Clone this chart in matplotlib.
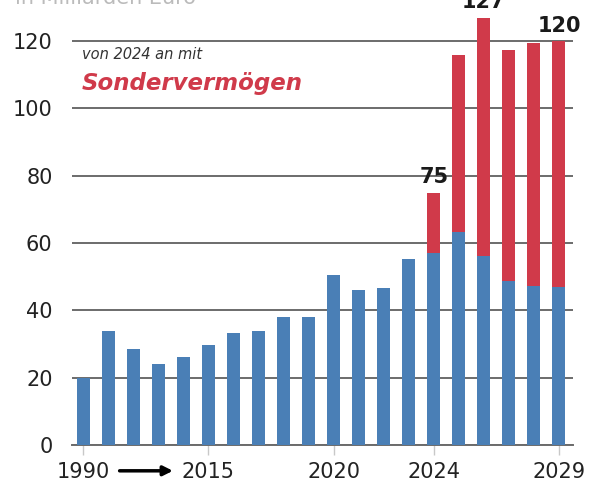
import numpy as np
import matplotlib
matplotlib.use("Agg")
import matplotlib.pyplot as plt

# Werte in Mrd. Euro
jahre = ['1990', '1995', '2000', '2005', '2010', '2015', '2016', '2017', '2018', '2019',
         '2020', '2021', '2022', '2023', '2024', '2025', '2026', '2027', '2028', '2029']
kernhaushalt = [20, 34, 28.4, 24.1, 26.1, 29.6, 33.3, 34, 38, 38,
                50.4, 46, 46.5, 55.2, 57, 63.2, 56.2, 48.7, 47.3, 46.8]
sondervermoegen = [0, 0, 0, 0, 0, 0, 0, 0, 0, 0,
                   0, 0, 0, 0, 18.0, 52.6, 70.8, 68.7, 72.1, 73.2]
tick_jahre = ['1990', '2015', '2020', '2024', '2029']
label_jahre = ['2024', '2026', '2029']
label_text = ['75', '127', '120']

blau = '#4a7fb6'
rot = '#d03a4a'

fig = plt.figure(figsize=(5.93, 4.92), dpi=100)
ax = fig.add_axes([72/593, 1 - 445/492, (573 - 72)/593, 445/492])

x = np.arange(len(jahre))
ax.bar(x, kernhaushalt, width=0.52, color=blau, zorder=3)
ax.bar(x, sondervermoegen, width=0.52, bottom=kernhaushalt, color=rot, zorder=3)

ax.set_xlim(-0.44, 19.56)
ax.set_ylim(0, 132.2)

# Gitterlinien
ax.set_yticks([0, 20, 40, 60, 80, 100, 120])
ax.yaxis.grid(True, color='#6b6b6b', linewidth=1.4, zorder=1)
ax.tick_params(axis='y', length=0, pad=14, labelsize=15, labelcolor='#222222')

pos = [jahre.index(j) for j in tick_jahre]
ax.set_xticks(pos)
ax.set_xticklabels(tick_jahre)
ax.tick_params(axis='x', length=7, width=1, color='#c8c8c8', pad=5,
               labelsize=15, labelcolor='#222222')

for s in ['top', 'right', 'left']:
    ax.spines[s].set_visible(False)
ax.spines['bottom'].set_color('#6b6b6b')
ax.spines['bottom'].set_linewidth(1.4)

# Pfeil 1990 -> 2015
ax.annotate('', xy=(3.7, -0.058), xytext=(1.35, -0.058),
            xycoords=ax.get_xaxis_transform(), textcoords=ax.get_xaxis_transform(),
            arrowprops=dict(arrowstyle='-|>', color='black', lw=2.5, mutation_scale=14),
            annotation_clip=False)

# Summen über ausgewählten Balken
for j, t in zip(label_jahre, label_text):
    i = jahre.index(j)
    ges = kernhaushalt[i] + sondervermoegen[i]
    ax.text(i, ges + 1.5, t, ha='center', va='bottom', fontsize=15,
            fontweight='bold', color='#1a1a1a', clip_on=False)

ax.text(-0.04, 116, 'von 2024 an mit', fontsize=10.5, style='italic',
        color='#333333', va='center', ha='left')
ax.text(-0.04, 107.5, 'Sondervermögen', fontsize=16.5, style='italic',
        fontweight='bold', color=rot, va='center', ha='left')

fig.text(0.025, 1 - 4/492, 'in Milliarden Euro', fontsize=15, color='#bbbbbb',
         va='baseline', ha='left')

fig.savefig('out.png', dpi=100)
